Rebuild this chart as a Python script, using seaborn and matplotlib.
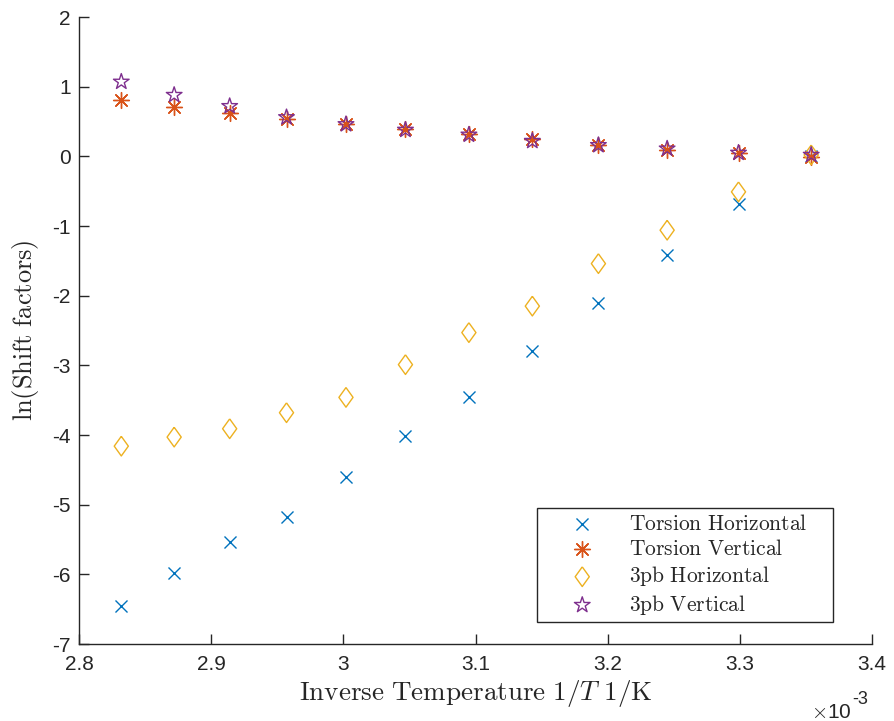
import matplotlib
matplotlib.use("Agg")
import matplotlib.pyplot as plt
import seaborn as sns
import pandas as pd
from matplotlib.ticker import FuncFormatter, FixedLocator

# inverse temperature (x 1e-3, 1/K)
inv_temp = [2.832, 2.872, 2.914, 2.957, 3.002, 3.047, 3.095, 3.143, 3.193, 3.245, 3.299, 3.354]

torsion_horizontal = [-6.46, -5.98, -5.53, -5.18, -4.60, -4.02, -3.45, -2.79, -2.10, -1.41, -0.69, 0.00]
torsion_vertical   = [0.81, 0.71, 0.62, 0.53, 0.47, 0.39, 0.32, 0.25, 0.16, 0.09, 0.05, -0.01]
pb3_horizontal     = [-4.16, -4.03, -3.91, -3.68, -3.46, -2.99, -2.53, -2.15, -1.54, -1.06, -0.51, 0.02]
pb3_vertical       = [1.07, 0.88, 0.72, 0.56, 0.46, 0.38, 0.31, 0.22, 0.16, 0.11, 0.05, 0.02]

series_names = ["Torsion Horizontal", "Torsion Vertical", "3pb Horizontal", "3pb Vertical"]
colors = ["#0072BD", "#D95319", "#EDB120", "#7E2F8E"]

x_ticks = [2.8, 2.9, 3.0, 3.1, 3.2, 3.3, 3.4]
y_ticks = [-7, -6, -5, -4, -3, -2, -1, 0, 1, 2]

sns.set_style("white")
plt.rcParams["mathtext.fontset"] = "cm"
plt.rcParams["font.family"] = ["Liberation Sans", "DejaVu Sans"]

fig = plt.figure(figsize=(8.94, 7.21), dpi=100)
ax = fig.add_axes([79 / 894, 1 - 644 / 721, (872 - 79) / 894, (644 - 17) / 721])

df = pd.DataFrame({"x": inv_temp, "th": torsion_horizontal, "tv": torsion_vertical,
                   "ph": pb3_horizontal, "pv": pb3_vertical})

diamond = [(0, 1), (0.72, 0), (0, -1), (-0.72, 0), (0, 1)]

sns.scatterplot(data=df, x="x", y="th", ax=ax, marker="x", color=colors[0],
                s=75, linewidth=1.0, label=series_names[0])
sns.scatterplot(data=df, x="x", y="tv", ax=ax, marker=(8, 2, 0), color=colors[1],
                s=130, linewidth=1.0, label=series_names[1])
sns.scatterplot(data=df, x="x", y="ph", ax=ax, marker=diamond, facecolor="none",
                edgecolor=colors[2], s=200, linewidth=1.0, label=series_names[2])
sns.scatterplot(data=df, x="x", y="pv", ax=ax, marker="*", facecolor="none",
                edgecolor=colors[3], s=140, linewidth=1.0, label=series_names[3])

ax.set_xlim(2.8, 3.4)
ax.set_ylim(-7, 2)
ax.xaxis.set_major_locator(FixedLocator(x_ticks))
ax.yaxis.set_major_locator(FixedLocator(y_ticks))
ax.xaxis.set_major_formatter(FuncFormatter(lambda v, p: f"{v:g}"))
ax.yaxis.set_major_formatter(FuncFormatter(lambda v, p: f"{v:g}"))

for side in ["top", "right"]:
    ax.spines[side].set_visible(False)
for side in ["left", "bottom"]:
    ax.spines[side].set_color("#262626")
    ax.spines[side].set_linewidth(1.0)

ax.tick_params(axis="both", direction="in", length=7, width=1.0, colors="#262626",
               labelsize=15, labelcolor="#262626", bottom=True, left=True)
ax.tick_params(axis="x", pad=8)
ax.tick_params(axis="y", pad=6)

ax.set_xlabel(r"$\mathrm{Inverse\ Temperature}\ 1/T\ 1/\mathrm{K}$", fontsize=19.5, color="#262626", labelpad=3)
ax.set_ylabel(r"$\mathrm{ln(Shift\ factors)}$", fontsize=19, color="#262626", labelpad=8)

fig.text(852 / 894, 1 - 713 / 721, r"$\times$10", ha="right", va="center",
         fontsize=15, color="#262626")
fig.text(852 / 894, 1 - 700 / 721, "-3", ha="left", va="center",
         fontsize=13, color="#262626")

leg = ax.legend(loc="lower left", bbox_to_anchor=(0.5776, 0.035, 0.3733, 0.182),
                mode="expand", frameon=True,
                fancybox=False, edgecolor="#262626", framealpha=1, borderpad=0.25,
                handlelength=3.7, handletextpad=0.3, labelspacing=0.2, borderaxespad=0,
                prop={"size": 15.5})
for t in leg.get_texts():
    t.set_text("$\\mathrm{" + t.get_text().replace(" ", "\\ ") + "}$")
leg.get_frame().set_linewidth(1.0)

fig.savefig("out.png", dpi=100, facecolor="white")
